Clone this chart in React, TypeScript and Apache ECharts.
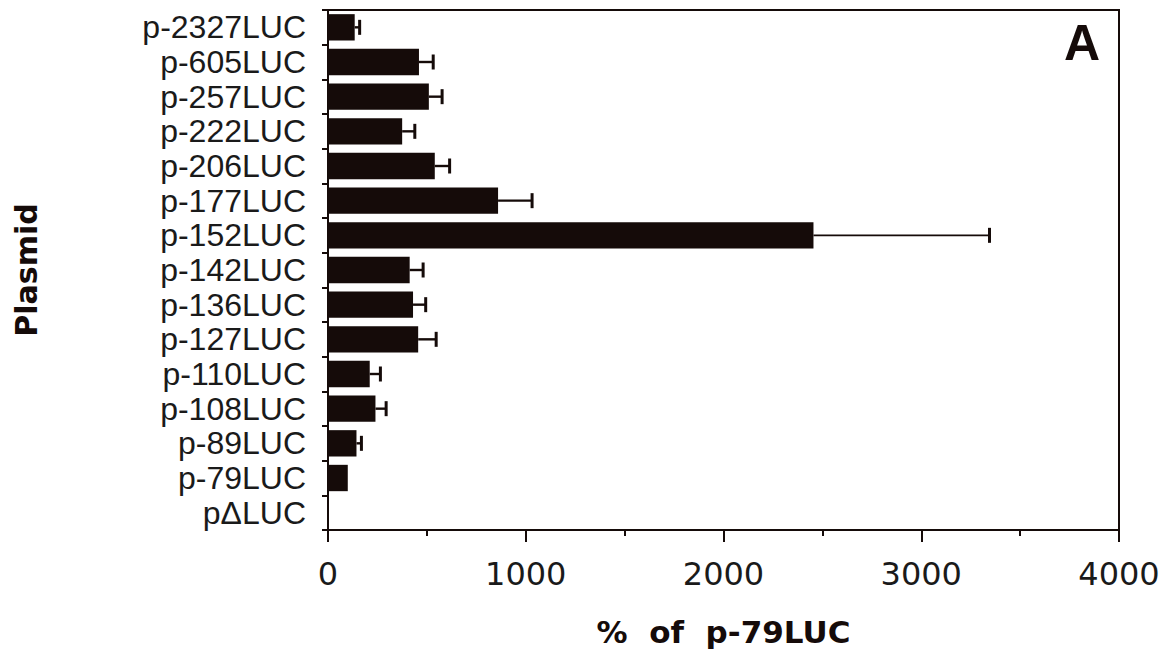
import React, { useEffect, useRef } from "react";
import * as echarts from "echarts";

const categories = [
  "p-2327LUC", "p-605LUC", "p-257LUC", "p-222LUC", "p-206LUC", "p-177LUC", "p-152LUC",
  "p-142LUC", "p-136LUC", "p-127LUC", "p-110LUC", "p-108LUC", "p-89LUC", "p-79LUC", "pΔLUC",
];
const means = [135, 460, 510, 375, 540, 860, 2455, 413, 430, 456, 211, 240, 144, 100, 0];
const errors = [25, 72, 67, 64, 75, 172, 890, 68, 64, 91, 54, 54, 25, 0, 0];
const xTicks = [0, 1000, 2000, 3000, 4000];
const xTitle = "%  of  p-79LUC";
const yTitle = "Plasmid";
const panelLabel = "A";

const INK = "#150b09";

export default function App() {
  const ref = useRef<HTMLDivElement>(null);
  useEffect(() => {
    if (!ref.current) return;
    const chart = echarts.init(ref.current, null, { renderer: "svg" });
    const errData = means.map((m, i) => [m, i, errors[i]]).filter((d) => d[2] > 0);
    chart.setOption({
      animation: false,
      backgroundColor: "#ffffff",
      grid: {
        left: 328, right: 51, top: 10, bottom: 127,
        containLabel: false,
        outerBoundsMode: "none",
        show: true, borderColor: INK, borderWidth: 2, backgroundColor: "transparent",
      },
      xAxis: {
        type: "value",
        min: xTicks[0],
        max: xTicks[xTicks.length - 1],
        interval: 1000,
        name: xTitle,
        nameLocation: "middle",
        nameGap: 86,
        nameTextStyle: { fontFamily: "DejaVu Sans", fontWeight: "bold", fontSize: 31, color: INK },
        axisLine: { show: true, lineStyle: { color: INK, width: 2 } },
        axisTick: { show: true, inside: false, length: 12, lineStyle: { color: INK, width: 2 } },
        minorTick: { show: true, splitNumber: 2, length: 6, lineStyle: { color: INK, width: 2 } },
        splitLine: { show: false },
        minorSplitLine: { show: false },
        axisLabel: {
          margin: 28,
          fontFamily: "DejaVu Sans",
          fontSize: 32,
          color: "#1a1a1a",
          formatter: (v: number) => String(v),
        },
      },
      yAxis: {
        type: "category",
        data: categories,
        inverse: true,
        name: yTitle,
        nameLocation: "middle",
        nameGap: 287,
        nameRotate: 90,
        nameTextStyle: { fontFamily: "DejaVu Sans", fontWeight: "bold", fontSize: 30, color: INK },
        axisLine: { show: true, lineStyle: { color: INK, width: 2 } },
        axisTick: { show: true, inside: false, length: 6, interval: 0, lineStyle: { color: INK, width: 2 } },
        axisLabel: { interval: 0, margin: 22, fontFamily: "Liberation Sans", fontSize: 32, color: "#1a1a1a" },
        splitLine: { show: false },
      },
      series: [
        {
          type: "bar",
          data: means,
          barWidth: "76%",
          itemStyle: { color: INK },
        },
        {
          type: "custom",
          data: errData,
          encode: { x: [0], y: 1 },
          z: 3,
          renderItem: (params: any, api: any) => {
            const v = api.value(0);
            const idx = api.value(1);
            const e = api.value(2);
            const start = api.coord([v, idx]);
            const end = api.coord([v + e, idx]);
            const half = 7.5;
            const w = e > 500 ? 1.8 : 2.4;
            return {
              type: "group",
              children: [
                {
                  type: "line",
                  shape: { x1: start[0], y1: start[1], x2: end[0], y2: end[1] },
                  style: { stroke: INK, lineWidth: w },
                },
                {
                  type: "line",
                  shape: { x1: end[0], y1: end[1] - half, x2: end[0], y2: end[1] + half },
                  style: { stroke: INK, lineWidth: 3 },
                },
              ],
            };
          },
        },
      ],
      graphic: [
        {
          type: "text",
          right: 70,
          top: 18,
          style: {
            text: panelLabel,
            fontFamily: "Liberation Sans",
            fontWeight: "bold",
            fontSize: 50,
            fill: INK,
          },
        },
      ],
    });
    return () => chart.dispose();
  }, []);
  return (
    <div
      ref={ref}
      style={{ position: "fixed", left: 0, top: 0, width: 1170, height: 657, background: "#fff" }}
    />
  );
}
